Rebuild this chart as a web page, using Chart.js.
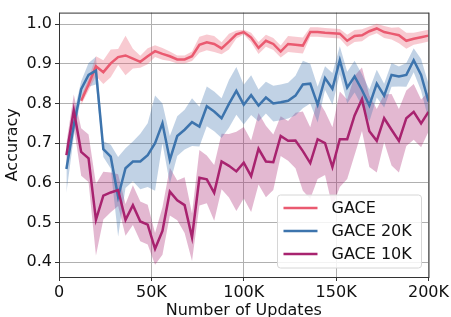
<!DOCTYPE html>
<html>
<head>
<meta charset="utf-8">
<script src="https://cdn.jsdelivr.net/npm/chart.js@4/dist/chart.umd.min.js"></script>
<style>
  html, body { margin: 0; padding: 0; background: #fff; }
  #wrap { width: 451px; height: 317px; }
</style>
</head>
<body>
<div id="wrap"><canvas id="accChart" width="451" height="317"></canvas></div>
<script>
// number of updates (x) for every evaluation
const updates = [4000, 8000, 12000, 16000, 20000, 24000, 28000, 32000, 36000, 40000,
  44000, 48000, 52000, 56000, 60000, 64000, 68000, 72000, 76000, 80000,
  84000, 88000, 92000, 96000, 100000, 104000, 108000, 112000, 116000, 120000,
  124000, 128000, 132000, 136000, 140000, 144000, 148000, 152000, 156000, 160000,
  164000, 168000, 172000, 176000, 180000, 184000, 188000, 192000, 196000, 200000];

const seriesNames = ['GACE', 'GACE 20K', 'GACE 10K'];

// mean accuracy
const gaceMean = [null, null, 0.807, 0.848, 0.894, 0.879, 0.901, 0.917, 0.921, 0.913,
  0.905, 0.919, 0.932, 0.925, 0.919, 0.911, 0.911, 0.919, 0.948, 0.954,
  0.950, 0.939, 0.956, 0.974, 0.980, 0.966, 0.940, 0.958, 0.950, 0.931,
  0.950, 0.948, 0.946, 0.980, 0.980, 0.978, 0.977, 0.976, 0.958, 0.970,
  0.972, 0.982, 0.989, 0.980, 0.976, 0.972, 0.958, 0.963, 0.967, 0.971];
const gace20kMean = [0.635, 0.745, 0.836, 0.872, 0.883, 0.685, 0.666, 0.565, 0.637, 0.654,
  0.654, 0.670, 0.700, 0.750, 0.658, 0.718, 0.734, 0.753, 0.742, 0.793,
  0.780, 0.763, 0.799, 0.832, 0.797, 0.821, 0.795, 0.815, 0.800, 0.803,
  0.807, 0.820, 0.848, 0.850, 0.797, 0.864, 0.837, 0.909, 0.840, 0.868,
  0.834, 0.795, 0.850, 0.820, 0.872, 0.868, 0.872, 0.909, 0.872, 0.805];
const gace10kMean = [0.670, 0.783, 0.678, 0.662, 0.507, 0.568, 0.576, 0.582, 0.507, 0.544,
  0.503, 0.495, 0.434, 0.479, 0.578, 0.556, 0.544, 0.463, 0.613, 0.609,
  0.575, 0.654, 0.643, 0.629, 0.651, 0.617, 0.686, 0.654, 0.652, 0.718,
  0.706, 0.707, 0.680, 0.650, 0.710, 0.700, 0.640, 0.710, 0.710, 0.770,
  0.811, 0.730, 0.706, 0.763, 0.734, 0.706, 0.763, 0.779, 0.750, 0.779];

// spread (half width of shaded band)
const gaceSpread = [null, null, 0.010, 0.015, 0.025, 0.030, 0.035, 0.020, 0.050, 0.025,
  0.015, 0.020, 0.015, 0.015, 0.012, 0.010, 0.010, 0.012, 0.020, 0.020,
  0.020, 0.015, 0.020, 0.010, 0.006, 0.012, 0.015, 0.015, 0.015, 0.015,
  0.020, 0.020, 0.020, 0.012, 0.012, 0.012, 0.012, 0.012, 0.015, 0.015,
  0.015, 0.012, 0.012, 0.015, 0.015, 0.020, 0.020, 0.015, 0.015, 0.015];
const gace20kSpread = [0.060, 0.030, 0.020, 0.030, 0.035, 0.020, 0.030, 0.100, 0.050, 0.050,
  0.070, 0.080, 0.120, 0.050, 0.060, 0.050, 0.050, 0.060, 0.050, 0.050,
  0.050, 0.050, 0.060, 0.060, 0.050, 0.050, 0.040, 0.040, 0.045, 0.045,
  0.045, 0.050, 0.060, 0.050, 0.045, 0.030, 0.040, 0.035, 0.040, 0.040,
  0.040, 0.040, 0.035, 0.030, 0.030, 0.025, 0.030, 0.030, 0.040, 0.045];
const gace10kSpread = [0.030, 0.040, 0.060, 0.060, 0.090, 0.060, 0.050, 0.040, 0.040, 0.050,
  0.050, 0.050, 0.040, 0.060, 0.060, 0.050, 0.070, 0.060, 0.070, 0.060,
  0.070, 0.070, 0.080, 0.100, 0.090, 0.090, 0.090, 0.090, 0.070, 0.050,
  0.050, 0.070, 0.100, 0.090, 0.100, 0.080, 0.100, 0.120, 0.100, 0.100,
  0.080, 0.090, 0.080, 0.060, 0.090, 0.080, 0.070, 0.070, 0.060, 0.050];

const xTicks = [0, 50000, 100000, 150000, 200000];
const yTicks = [0.4, 0.5, 0.6, 0.7, 0.8, 0.9, 1.0];

const lineColors = ['#ea5a70', '#3d74ad', '#a8236f'];
const bandColors = ['rgba(234,90,112,0.32)', 'rgba(61,116,173,0.32)', 'rgba(168,35,111,0.32)'];

const FONT = 'DejaVu Sans';

function pts(vals) {
  return updates.map((u, i) => ({ x: u, y: vals[i] }));
}

// upper edge, lower edge (filled to upper), and the mean line
function bandSets(mean, spread, idx, lineOrder) {
  const up = mean.map((m, i) => m == null ? null : m + spread[i]);
  const lo = mean.map((m, i) => m == null ? null : m - spread[i]);
  return [
    { label: '_up', data: pts(up), borderWidth: 0, pointRadius: 0, fill: false, order: 10 },
    { label: '_lo', data: pts(lo), borderWidth: 0, pointRadius: 0,
      fill: '-1', backgroundColor: bandColors[idx], order: 10 },
    { label: seriesNames[idx], data: pts(mean), borderColor: lineColors[idx], borderWidth: 2.5,
      pointRadius: 0, fill: false, order: lineOrder }
  ];
}

// matplotlib-like frame around the plot area
const framePlugin = {
  id: 'frame',
  afterDatasetsDraw(chart) {
    const a = chart.chartArea, c = chart.ctx;
    c.save();
    c.strokeStyle = '#333';
    c.lineWidth = 1;
    c.strokeRect(a.left + 0.5, a.top + 0.5, a.right - a.left, a.bottom - a.top);
    c.restore();
  }
};

// legend box in the lower right corner
const boxLegend = {
  id: 'boxLegend',
  afterDraw(chart) {
    const c = chart.ctx, a = chart.chartArea;
    const x = a.right - 151, y = a.bottom - 82, w = 144, h = 73;
    c.save();
    c.beginPath();
    c.roundRect(x, y, w, h, 3);
    c.fillStyle = 'rgba(255,255,255,0.85)';
    c.fill();
    c.strokeStyle = '#d6d6d6';
    c.lineWidth = 1;
    c.stroke();
    c.font = '16px "' + FONT + '"';
    c.textBaseline = 'middle';
    seriesNames.forEach((name, i) => {
      const ly = y + 13 + i * 23;
      c.beginPath();
      c.moveTo(x + 6, ly);
      c.lineTo(x + 40, ly);
      c.strokeStyle = lineColors[i];
      c.lineWidth = 2.5;
      c.stroke();
      c.fillStyle = '#111';
      c.fillText(name, x + 54, ly + 1);
    });
    c.restore();
  }
};

const ctx = document.getElementById('accChart');
new Chart(ctx, {
  type: 'line',
  data: {
    datasets: [
      ...bandSets(gaceMean, gaceSpread, 0, 3),
      ...bandSets(gace20kMean, gace20kSpread, 1, 2),
      ...bandSets(gace10kMean, gace10kSpread, 2, 1)
    ]
  },
  options: {
    responsive: false,
    animation: false,
    layout: { padding: { left: 0, right: 22, top: 4, bottom: 0 } },
    elements: { line: { tension: 0 } },
    plugins: {
      legend: { display: false },
      tooltip: { enabled: false },
      filler: { propagate: false }
    },
    scales: {
      x: {
        type: 'linear',
        min: 0,
        max: 200000,
        afterBuildTicks: (s) => { s.ticks = xTicks.map(v => ({ value: v })); },
        afterFit: (s) => { s.height = 40; },
        ticks: {
          font: { family: FONT, size: 16 },
          color: '#111',
          padding: 2,
          maxRotation: 0,
          callback: (v) => v === 0 ? '0' : (v / 1000) + 'K'
        },
        grid: { color: '#b0b0b0', lineWidth: 1, tickLength: 4, tickColor: '#333' },
        border: { display: false },
        title: {
          display: true,
          text: 'Number of Updates',
          font: { family: FONT, size: 16 },
          color: '#111',
          padding: { top: 0, bottom: -3 }
        }
      },
      y: {
        min: 0.363,
        max: 1.029,
        afterBuildTicks: (s) => { s.ticks = yTicks.map(v => ({ value: v })); },
        afterFit: (s) => { s.width = 59; },
        ticks: {
          font: { family: FONT, size: 16 },
          color: '#111',
          padding: 3,
          callback: (v) => v.toFixed(1)
        },
        grid: { color: '#b0b0b0', lineWidth: 1, tickLength: 4, tickColor: '#333' },
        border: { display: false },
        title: {
          display: true,
          text: 'Accuracy',
          font: { family: FONT, size: 16 },
          color: '#111',
          padding: { top: 3, bottom: 0 }
        }
      }
    }
  },
  plugins: [framePlugin, boxLegend]
});
</script>
</body>
</html>
